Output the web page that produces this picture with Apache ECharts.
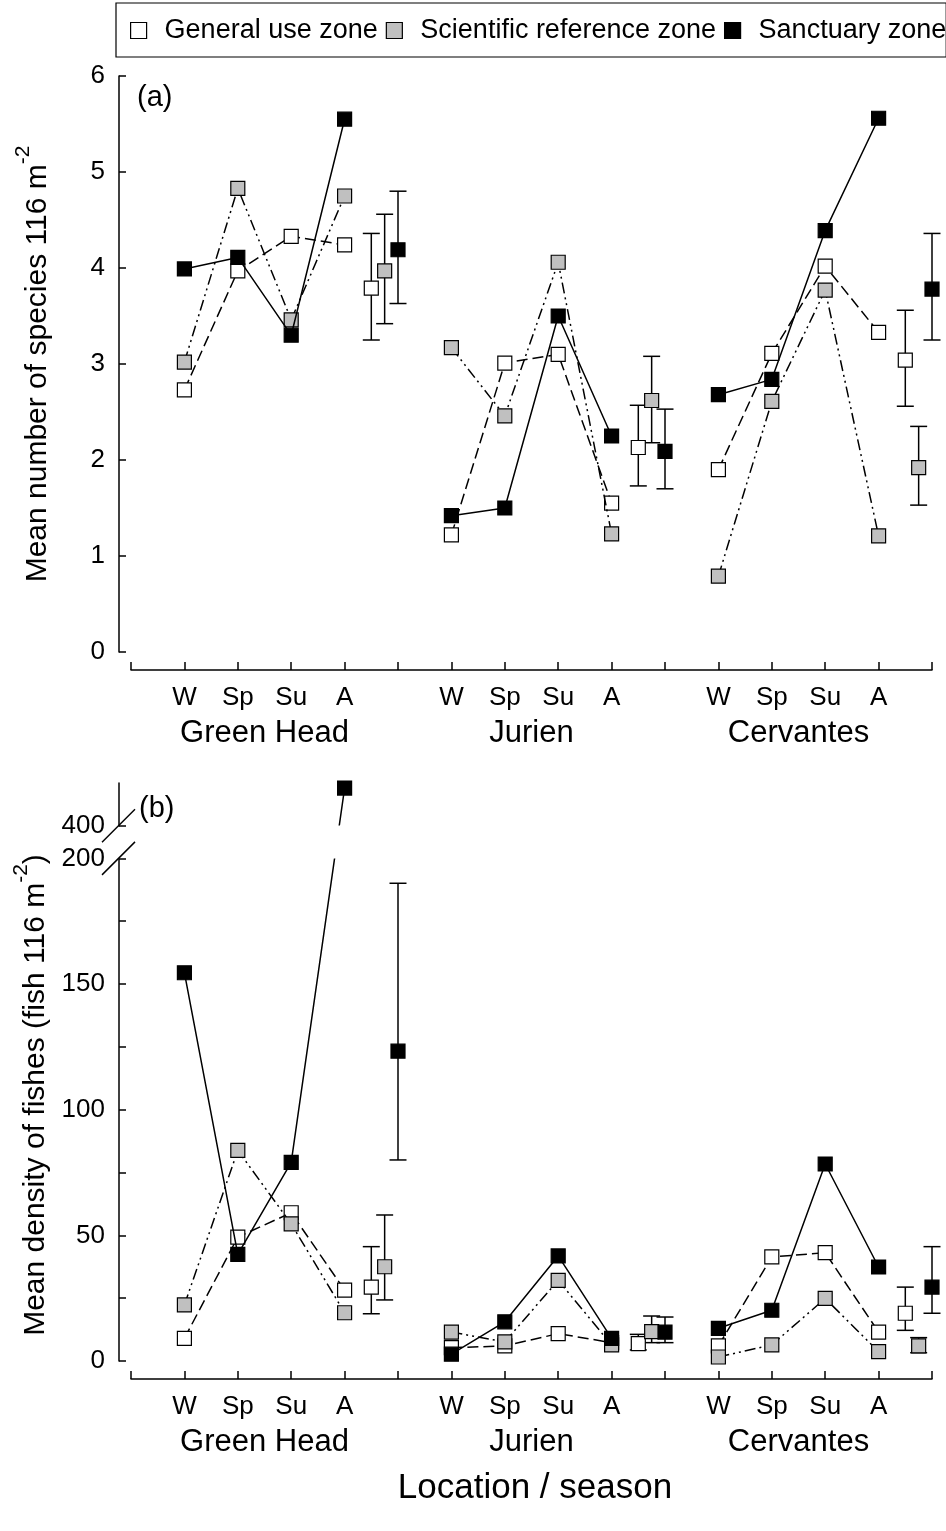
<!DOCTYPE html>
<html>
<head>
<meta charset="utf-8">
<title>Fish species richness and density by zone</title>
<script src="https://cdn.jsdelivr.net/npm/echarts@6/dist/echarts.min.js"></script>
<style>
  html, body { margin: 0; padding: 0; background: #ffffff; }
  #chart { width: 946px; height: 1531px; }
</style>
</head>
<body>
<div id="chart"></div>
<script>
// ---- data -------------------------------------------------------------
const seasons = ['W', 'Sp', 'Su', 'A'];
const locations = ['Green Head', 'Jurien', 'Cervantes'];
const zoneNames = ['General use zone', 'Scientific reference zone', 'Sanctuary zone'];

// (a) mean number of species per 116 m2; rows = location, columns = W, Sp, Su, A
const speciesGeneral    = [[2.73, 3.97, 4.33, 4.24], [1.22, 3.01, 3.10, 1.55], [1.90, 3.11, 4.02, 3.33]];
const speciesScientific = [[3.02, 4.83, 3.46, 4.75], [3.17, 2.46, 4.06, 1.23], [0.79, 2.61, 3.77, 1.21]];
const speciesSanctuary  = [[3.99, 4.11, 3.30, 5.55], [1.42, 1.50, 3.50, 2.25], [2.68, 2.84, 4.39, 5.56]];
// (a) overall location means with lower / upper error limits
const speciesMean = [[3.79, 2.13, 3.04], [3.97, 2.62, 1.92], [4.19, 2.09, 3.78]];
const speciesLow  = [[3.25, 1.73, 2.56], [3.42, 2.18, 1.53], [3.63, 1.70, 3.25]];
const speciesHigh = [[4.36, 2.57, 3.56], [4.56, 3.08, 2.35], [4.80, 2.53, 4.36]];

// (b) mean density of fishes per 116 m2; rows = location, columns = W, Sp, Su, A
const densityGeneral    = [[9.0, 49.3, 59.0, 28.2], [5.3, 6.0, 10.9, 7.3], [6.0, 41.4, 43.1, 11.5]];
const densityScientific = [[22.3, 83.8, 54.6, 19.2], [11.5, 7.6, 32.1, 6.4], [1.6, 6.4, 24.9, 3.7]];
const densitySanctuary  = [[154.5, 42.4, 79.0, 415.0], [2.7, 15.6, 41.8, 9.0], [13.0, 20.2, 78.4, 37.4]];
// (b) overall location means with lower / upper error limits
const densityMean = [[29.4, 6.9, 19.0], [37.5, 11.7, 6.0], [123.3, 11.5, 29.4]];
const densityLow  = [[18.8, 4.4, 12.2], [24.3, 7.3, 3.3], [80.0, 7.3, 19.0]];
const densityHigh = [[45.5, 10.6, 29.4], [58.1, 17.9, 9.3], [190.1, 17.5, 45.5]];

// y ticks
const speciesTicks = { min: 0, max: 6, interval: 1 };
const densityTicks = { min: 0, max: 417, interval: 25, labelStep: 50, breakStart: 200, breakEnd: 400 };

// ---- styling ----------------------------------------------------------
const FONT = '"Liberation Sans", Arial, Helvetica, sans-serif';
const zoneFill = ['#ffffff', '#c0c0c0', '#000000'];
const zoneDash = [[11, 5], [11, 4, 2, 4, 2, 4], 'solid'];

// x layout: each location takes 5 slots, seasons in slots 1-4, the means just after
function seasonX(loc, s) { return loc * 5 + s + 1; }
function meanX(loc, z) { return loc * 5 + 4.5 + z * 0.25; }

function renderErrorBar(params, api) {
  const x = api.value(0);
  const lo = api.coord([x, api.value(1)]);
  const hi = api.coord([x, api.value(2)]);
  const half = 8.5;
  const style = { stroke: '#000', lineWidth: 1.5, fill: null };
  return {
    type: 'group',
    children: [
      { type: 'line', shape: { x1: lo[0], y1: lo[1], x2: hi[0], y2: hi[1] }, style: style },
      { type: 'line', shape: { x1: lo[0] - half, y1: lo[1], x2: lo[0] + half, y2: lo[1] }, style: style },
      { type: 'line', shape: { x1: hi[0] - half, y1: hi[1], x2: hi[0] + half, y2: hi[1] }, style: style }
    ]
  };
}

function panelSeries(panel, zoneValues, means, lows, highs) {
  const out = [];
  zoneNames.forEach(function (name, z) {
    zoneValues[z].forEach(function (row, loc) {
      out.push({
        type: 'line', name: name,
        xAxisIndex: panel, yAxisIndex: panel,
        data: row.map(function (v, s) { return [seasonX(loc, s), v]; }),
        symbol: 'rect', symbolSize: 14, showSymbol: true,
        lineStyle: { color: '#000', width: 1.5, type: zoneDash[z] },
        itemStyle: { color: zoneFill[z], borderColor: '#000', borderWidth: 1.2 },
        emphasis: { disabled: true },
        z: 2 + z
      });
    });
  });
  zoneNames.forEach(function (name, z) {
    out.push({
      type: 'custom', name: name,
      xAxisIndex: panel, yAxisIndex: panel,
      data: means[z].map(function (m, loc) { return [meanX(loc, z), lows[z][loc], highs[z][loc]]; }),
      encode: { x: 0, y: [1, 2] },
      renderItem: renderErrorBar,
      z: 6
    });
    out.push({
      type: 'scatter', name: name,
      xAxisIndex: panel, yAxisIndex: panel,
      data: means[z].map(function (m, loc) { return [meanX(loc, z), m]; }),
      symbol: 'rect', symbolSize: 14,
      itemStyle: { color: zoneFill[z], borderColor: '#000', borderWidth: 1.2, opacity: 1 },
      emphasis: { disabled: true },
      z: 7
    });
  });
  return out;
}

function seasonAxis(gridIndex) {
  return {
    type: 'value', gridIndex: gridIndex, min: 0, max: 15, interval: 1,
    position: 'bottom', offset: 18,
    splitLine: { show: false },
    axisLine: { show: true, onZero: false, lineStyle: { color: '#000', width: 1.5 } },
    axisTick: { show: true, inside: true, length: 8, lineStyle: { color: '#000', width: 1.5 } },
    axisLabel: {
      show: true, margin: 15, color: '#000', fontFamily: FONT, fontSize: 26,
      showMinLabel: true, showMaxLabel: true,
      formatter: function (v) {
        const k = Math.round(v) % 5;
        return (k >= 1 && k <= 4) ? seasons[k - 1] : '';
      }
    }
  };
}

function locationAxis(gridIndex) {
  return {
    type: 'value', gridIndex: gridIndex, min: 0, max: 15, interval: 2.5,
    position: 'bottom',
    splitLine: { show: false },
    axisLine: { show: false },
    axisTick: { show: false },
    axisLabel: {
      show: true, margin: 47, color: '#000', fontFamily: FONT, fontSize: 31,
      formatter: function (v) {
        const k = (v - 2.5) / 5;
        return (Math.abs(k - Math.round(k)) < 1e-6 && k >= 0 && k < locations.length) ? locations[Math.round(k)] : '';
      }
    }
  };
}

const hiddenY = function (gridIndex) {
  return { type: 'value', gridIndex: gridIndex, show: false, min: 0, max: 1 };
};

const chart = echarts.init(document.getElementById('chart'), null, { renderer: 'canvas' });

const option = {
  animation: false,
  backgroundColor: '#ffffff',
  legend: {
    left: 116, top: 3, width: 830,
    data: zoneNames,
    icon: 'rect', itemWidth: 16, itemHeight: 16, itemGap: 8,
    selectedMode: false,
    borderColor: '#000', borderWidth: 1.2,
    padding: [14, 0, 13, 14],
    itemStyle: { borderColor: '#000', borderWidth: 1.2 },
    textStyle: { color: '#000', fontFamily: FONT, fontSize: 27, padding: [0, 0, 0, 13] }
  },
  grid: [
    { left: 131, right: 14, top: 76, height: 576 },
    { left: 131, right: 14, top: 783, height: 578 },
    { left: 131, right: 14, top: 670, height: 1 },
    { left: 131, right: 14, top: 1379, height: 1 }
  ],
  xAxis: [seasonAxis(0), seasonAxis(1), locationAxis(2), locationAxis(3)],
  yAxis: [
    {
      type: 'value', gridIndex: 0,
      min: speciesTicks.min, max: speciesTicks.max, interval: speciesTicks.interval,
      position: 'left', offset: 12,
      splitLine: { show: false },
      axisLine: { show: true, onZero: false, lineStyle: { color: '#000', width: 1.5 } },
      axisTick: { show: true, inside: true, length: 7, lineStyle: { color: '#000', width: 1.5 } },
      axisLabel: { color: '#000', fontFamily: FONT, fontSize: 26, margin: 14 },
      name: '{t|Mean number of species 116 m}{s|-2}',
      nameLocation: 'middle', nameRotate: 90, nameGap: 66,
      nameTextStyle: {
        color: '#000', fontFamily: FONT,
        rich: {
          t: { fontSize: 30, fontFamily: FONT, color: '#000', lineHeight: 40, verticalAlign: 'bottom' },
          s: { fontSize: 21, fontFamily: FONT, color: '#000', lineHeight: 40, verticalAlign: 'top', padding: [0, 0, 14, 0] }
        }
      }
    },
    {
      type: 'value', gridIndex: 1,
      min: densityTicks.min, max: densityTicks.max, interval: densityTicks.interval,
      position: 'left', offset: 12,
      breaks: [{ start: densityTicks.breakStart, end: densityTicks.breakEnd, gap: 13 }],
      breakArea: {
        show: true,
        itemStyle: { color: '#ffffff', borderColor: '#ffffff', borderWidth: 0, opacity: 1 },
        zigzagAmplitude: 0,
        expandOnClick: false
      },
      splitLine: { show: false },
      axisLine: { show: true, onZero: false, lineStyle: { color: '#000', width: 1.5 } },
      axisTick: { show: true, inside: true, length: 7, lineStyle: { color: '#000', width: 1.5 } },
      axisLabel: {
        color: '#000', fontFamily: FONT, fontSize: 26, margin: 14,
        formatter: function (v) { return (Math.round(v) % densityTicks.labelStep === 0) ? String(Math.round(v)) : ''; }
      },
      name: '{t|Mean density of fishes (fish 116 m}{s|-2}{t|)}',
      nameLocation: 'middle', nameRotate: 90, nameGap: 66,
      nameTextStyle: {
        color: '#000', fontFamily: FONT, padding: [0, 46, 0, 0],
        rich: {
          t: { fontSize: 30, fontFamily: FONT, color: '#000', lineHeight: 40, verticalAlign: 'bottom' },
          s: { fontSize: 21, fontFamily: FONT, color: '#000', lineHeight: 40, verticalAlign: 'top', padding: [0, 0, 14, 0] }
        }
      }
    },
    hiddenY(2),
    hiddenY(3)
  ],
  series: []
    .concat(panelSeries(0, [speciesGeneral, speciesScientific, speciesSanctuary], speciesMean, speciesLow, speciesHigh))
    .concat(panelSeries(1, [densityGeneral, densityScientific, densitySanctuary], densityMean, densityLow, densityHigh))
};

chart.setOption(option);

// panel letters, x title and the break marks on the density axis
function decorate() {
  const axisX = 131 - 12;
  const yStart = chart.convertToPixel({ yAxisIndex: 1 }, densityTicks.breakStart);
  const yEnd = chart.convertToPixel({ yAxisIndex: 1 }, densityTicks.breakEnd);
  const slash = function (id, y) {
    return {
      id: id, type: 'line', z: 200,
      shape: { x1: axisX - 17, y1: y + 16.5, x2: axisX + 16, y2: y - 16.5 },
      style: { stroke: '#000', lineWidth: 1.5 }
    };
  };
  const text = function (id, x, y, str, size, align) {
    return {
      id: id, type: 'text', z: 200, x: x, y: y,
      style: { text: str, fill: '#000', font: size + 'px ' + FONT, textAlign: align || 'left', textVerticalAlign: 'middle' }
    };
  };
  chart.setOption({
    graphic: [
      text('labelA', 137, 98, '(a)', 29),
      text('labelB', 139, 809, '(b)', 29),
      text('xTitle', 535, 1488, 'Location / season', 35, 'center'),
      slash('breakLow', yStart),
      slash('breakHigh', yEnd)
    ]
  });
}
decorate();
</script>
</body>
</html>
